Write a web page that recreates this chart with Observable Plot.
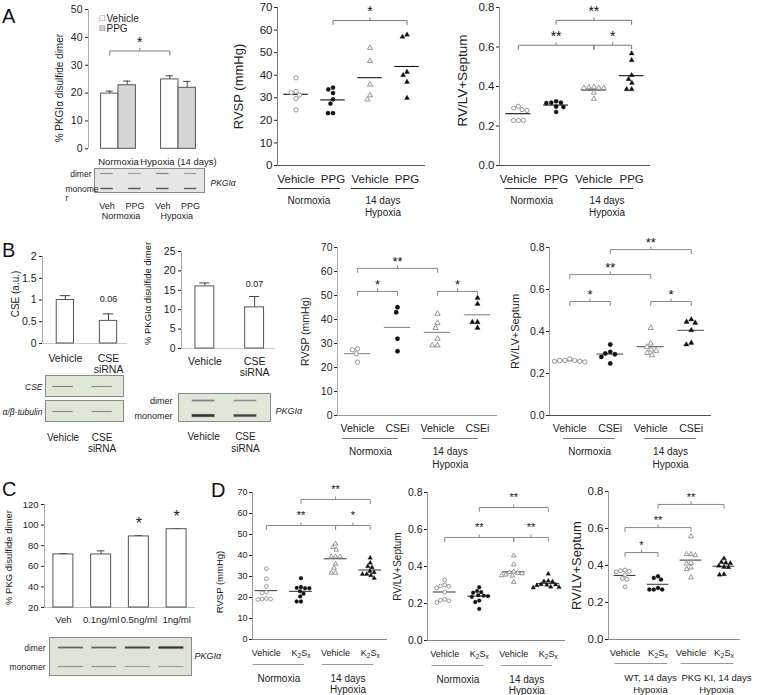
<!DOCTYPE html>
<html>
<head>
<meta charset="utf-8">
<script src="https://cdn.jsdelivr.net/npm/d3@7"></script>
<script src="https://cdn.jsdelivr.net/npm/@observablehq/plot@0.6"></script>
<style>
  html, body { margin: 0; padding: 0; background: #fff; }
  #fig { position: relative; width: 757px; height: 695px; overflow: hidden; background: #fff;
         font-family: "Liberation Sans", Arial, Helvetica, sans-serif; color: #222; }
  #fig svg { position: absolute; overflow: visible; }
  .letter { position: absolute; font-size: 20px; line-height: 20px; color: #111; }
</style>
</head>
<body>
<div id="fig"></div>
<script>
// ======================= DATA =======================
// Panel A (left bar chart): % PKGIα disulfide dimer, mean ± SEM
const a1Groups = ["Normoxia", "Hypoxia (14 days)"];
const a1Series = ["Vehicle", "PPG"];
const a1VehicleMean = [19.8, 24.9];
const a1VehicleErr = [0.9, 1.3];
const a1PpgMean = [22.8, 21.9];
const a1PpgErr = [1.5, 2.3];
const a1Brackets = [{g1: 0, g2: 1, y: 35.1, label: "*"}];

// Panel A blot
const aBlotLanes = ["Veh", "PPG", "Veh", "PPG"];
const aBlotGroups = ["Normoxia", "Hypoxia"];
const aBlotRows = ["dimer", "monomer"];
const aBlotRowLabels = ["dimer", "monome\nr"];
const aBlotDimer = [0.35, 0.3, 0.45, 0.3];
const aBlotMonomer = [0.7, 0.7, 0.7, 0.65];

// Panel A scatter plots
const labelsPPG = ["Vehicle", "PPG", "Vehicle", "PPG"];
const groupsNH = ["Normoxia", "14 days\nHypoxia"];
const a2VehNorm = [38.8, 32.8, 32.3, 31.2, 29.6, 24.6];
const a2PpgNorm = [34.5, 33.7, 32.1, 29.3, 27.4, 23.2, 23.2];
const a2VehHyp = [52.1, 46.3, 35.8, 31.1, 29.2];
const a2PpgHyp = [57.9, 57.0, 41.4, 40.0, 37.0, 29.9];
const a2Brackets = [{from: 1, to: 3, y: 64.2, label: "*"}];

const a3VehNorm = [0.300, 0.291, 0.283, 0.279, 0.228, 0.228, 0.228];
const a3PpgNorm = [0.325, 0.318, 0.318, 0.316, 0.298, 0.296, 0.271];
const a3VehHyp = [0.398, 0.396, 0.393, 0.392, 0.392, 0.369, 0.338];
const a3PpgHyp = [0.567, 0.533, 0.457, 0.437, 0.418, 0.386, 0.386];
const a3Brackets = [
  {from: 1, to: 3, y: 0.735, label: "**"},
  {from: 0, to: 2, y: 0.609, label: "**"},
  {from: 2, to: 3, y: 0.609, label: "*"}
];

// Panel B bar charts
const bCats = ["Vehicle", "CSE\nsiRNA"];
const b1Mean = [1.0, 0.52];
const b1Err = [0.1, 0.16];
const b1Note = ["", "0.06"];
const b2Mean = [16.0, 10.6];
const b2Err = [0.9, 2.8];
const b2Note = ["", "0.07"];

// Panel B blots
const b1CseBand = [0.4, 0.35];
const b1TubulinBand = [0.4, 0.4];
const b2Dimer = [0.4, 0.3];
const b2Monomer = [1.0, 0.85];

// Panel B scatter plots
const labelsCSEi = ["Vehicle", "CSEi", "Vehicle", "CSEi"];
const b3VehNorm = [27.8, 27.4, 25.7, 22.2];
const b3CseiNorm = [45.1, 43.0, 32.0, 26.8];
const b3VehHyp = [42.4, 38.5, 36.5, 32.0, 29.2, 29.2];
const b3CseiHyp = [49.0, 46.5, 38.9, 38.9, 36.5];
const b3Brackets = [
  {from: 0, to: 2, y: 61.3, label: "**"},
  {from: 0, to: 1, y: 51.7, label: "*"},
  {from: 2, to: 3, y: 51.7, label: "*"}
];
const b4VehNorm = [0.270, 0.262, 0.262, 0.262, 0.258, 0.258, 0.255];
const b4CseiNorm = [0.338, 0.303, 0.295, 0.292, 0.279, 0.248];
const b4VehHyp = [0.417, 0.343, 0.327, 0.314, 0.308, 0.298, 0.287];
const b4CseiHyp = [0.457, 0.446, 0.441, 0.406, 0.346, 0.338];
const b4Brackets = [
  {from: 1, to: 3, y: 0.79, label: "**"},
  {from: 0, to: 2, y: 0.671, label: "**"},
  {from: 0, to: 1, y: 0.543, label: "*"},
  {from: 2, to: 3, y: 0.543, label: "*"}
];

// Panel C
const cCats = ["Veh", "0.1ng/ml", "0.5ng/ml", "1ng/ml"];
const cMean = [71.5, 71.5, 89.0, 96.0];
const cErr = [0.8, 3.5, 0.8, 0.6];
const cStar = ["", "", "*", "*"];
const cDimer = [0.6, 0.6, 0.85, 1.0];
const cMonomer = [0.25, 0.25, 0.2, 0.2];

// Panel D
const labelsK2Sx = ["Vehicle", "K2Sx", "Vehicle", "K2Sx"];
const d1VehNorm = [33.7, 28.9, 25.3, 22.5, 22.2, 19.5, 19.3, 19.2, 19.0];
const d1K2sxNorm = [29.2, 25.0, 24.6, 24.4, 24.4, 23.0, 21.8, 20.5, 18.1, 18.1];
const d1VehHyp = [45.6, 44.0, 42.7, 39.5, 39.5, 39.5, 36.0, 34.1, 31.8, 31.8];
const d1K2sxHyp = [38.9, 36.5, 34.8, 34.3, 32.5, 32.0, 31.1, 31.1, 30.5, 29.2];
const d1Brackets = [
  {from: 1, to: 3, y: 66.7, label: "**"},
  {from: 0, to: 2, y: 54.3, label: "**"},
  {from: 2, to: 3, y: 54.3, label: "*"}
];
const d2VehNorm = [0.328, 0.300, 0.295, 0.293, 0.285, 0.262, 0.222, 0.218, 0.215, 0.205];
const d2K2sxNorm = [0.288, 0.268, 0.262, 0.258, 0.245, 0.243, 0.240, 0.236, 0.216, 0.208, 0.171];
const d2VehHyp = [0.459, 0.411, 0.372, 0.368, 0.365, 0.362, 0.356, 0.352, 0.350, 0.315];
const d2K2sxHyp = [0.360, 0.322, 0.320, 0.318, 0.303, 0.302, 0.300, 0.298, 0.290, 0.288, 0.285];
const d2Brackets = [
  {from: 1, to: 3, y: 0.719, label: "**"},
  {from: 0, to: 2, y: 0.557, label: "**"},
  {from: 2, to: 3, y: 0.557, label: "**"}
];
const groupsWTKI = ["WT, 14 days\nHypoxia", "PKG KI, 14 days\nHypoxia"];
const d3VehWT = [0.375, 0.372, 0.368, 0.365, 0.350, 0.330, 0.325, 0.285];
const d3K2sxWT = [0.342, 0.333, 0.324, 0.279, 0.270, 0.270, 0.270];
const d3VehKI = [0.557, 0.461, 0.461, 0.455, 0.414, 0.410, 0.389, 0.380, 0.335];
const d3K2sxKI = [0.438, 0.418, 0.414, 0.412, 0.398, 0.392, 0.390, 0.352, 0.350];
const d3Brackets = [
  {from: 1, to: 3, y: 0.73, label: "**"},
  {from: 0, to: 2, y: 0.605, label: "**"},
  {from: 0, to: 1, y: 0.47, label: "*"}
];

// ======================= HELPERS =======================
const FONT = '"Liberation Sans", Arial, Helvetica, sans-serif';
const fig = document.getElementById("fig");

function styleFor(fs) {
  return {fontFamily: FONT, fontSize: fs + "px", color: "#222", background: "transparent", overflow: "visible"};
}
function dims(f, m) {
  return {width: f.R - f.L + m.left + m.right, height: f.B - f.T + m.top + m.bottom,
    marginLeft: m.left, marginRight: m.right, marginTop: m.top, marginBottom: m.bottom};
}
function subscripts(svg) {
  d3.select(svg).selectAll("text, tspan").each(function () {
    if (this.childElementCount === 0 && this.textContent === "K2Sx") {
      const fs = parseFloat(getComputedStyle(this).fontSize) || 9;
      const s = d3.select(this); s.text("");
      const sh = (0.28 * fs).toFixed(2);
      s.append("tspan").text("K");
      s.append("tspan").attr("font-size", (0.72 * fs).toFixed(2)).attr("dy", sh).text("2");
      s.append("tspan").attr("dy", -sh).text("S");
      s.append("tspan").attr("font-size", (0.72 * fs).toFixed(2)).attr("dy", sh).text("x");
    }
  });
}
function mount(svg, f, m) {
  svg.style.position = "absolute";
  svg.style.left = (f.L - m.left) + "px";
  svg.style.top = (f.T - m.top) + "px";
  svg.style.overflow = "visible";
  svg.style.background = "transparent";
  fig.appendChild(svg);
  subscripts(svg);
}
function letter(t, x, y) {
  const d = document.createElement("div");
  d.className = "letter"; d.textContent = t;
  d.style.left = x + "px"; d.style.top = y + "px";
  fig.appendChild(d);
}
// beeswarm offsets (px) for the values of one category
function swarm(values, yPx, d) {
  const order = d3.range(values.length).sort((a, b) => values[b] - values[a]);
  const placed = [], out = new Array(values.length);
  for (const i of order) {
    const y = yPx(values[i]);
    const near = placed.filter(p => Math.abs(p.y - y) < d);
    const cands = [0];
    for (const p of near) {
      const dx = Math.sqrt(d * d - (p.y - y) ** 2);
      cands.push(p.x + dx, p.x - dx);
    }
    cands.sort((a, b) => Math.abs(a) - Math.abs(b) || a - b);
    let x = 0;
    for (const c of cands) {
      if (near.every(p => (p.x - c) ** 2 + (p.y - y) ** 2 >= d * d - 1e-6)) { x = c; break; }
    }
    placed.push({x, y}); out[i] = x;
  }
  return out;
}
function bracketMarks(br, pxY, c) {
  const dEnd = (c.endLen ?? 4) / pxY, dTick = (c.tickLen ?? 2.5) / pxY;
  const pts = br.flatMap((b, i) => [
    {i, x: b.from, y: b.y - dEnd}, {i, x: b.from, y: b.y},
    {i, x: b.to, y: b.y}, {i, x: b.to, y: b.y - dEnd}]);
  return [
    Plot.line(pts, {x: "x", y: "y", z: "i", stroke: c.bracketColor, strokeWidth: 1}),
    Plot.ruleX(br, {x: b => (b.from + b.to) / 2, y1: "y", y2: b => b.y + dTick, stroke: c.bracketColor}),
    Plot.text(br, {x: b => (b.from + b.to) / 2, y: "y", text: "label", textAnchor: "middle",
      dy: -(c.starOff - 0.26 * c.starFs), fontSize: c.starFs, fill: "#111"})
  ];
}
function yLabelMark(c) {
  return Plot.text([c.yLabel], {frameAnchor: "left", text: d => d, rotate: -90, textAnchor: "middle",
    lineAnchor: "middle", dx: c.yLabDx, dy: c.yLabDy || 0, fontSize: c.yLabFs, fill: "#222"});
}

// ---------- scatter (dot) plot ----------
function scatterPlot(c) {
  const f = c.frame;
  const m = {top: 40, right: 20, bottom: 60, left: 60};
  const [x0, x1] = c.xDomain, [y0, y1] = c.yDomain;
  const pxX = (f.R - f.L) / (x1 - x0);
  const pxY = (f.B - f.T) / (y1 - y0);
  const yPx = v => f.B - (v - y0) * pxY;
  const marks = [
    Plot.ruleX([x0], {stroke: c.yAxisColor}),
    Plot.ruleY([y0], {stroke: c.xAxisColor})
  ];
  const means = c.series.map((s, g) => ({g, m: d3.mean(s.values)}));
  marks.push(Plot.ruleY(means, {y: "m", x1: d => d.g - c.meanHalf, x2: d => d.g + c.meanHalf,
    stroke: c.meanColor, strokeWidth: 1.1}));
  c.series.forEach((s, g) => {
    const off = swarm(s.values, yPx, c.gap);
    const pts = s.values.map((v, i) => ({x: g + off[i] / pxX, y: v}));
    const tri = s.symbol === "triangle";
    marks.push(Plot.dot(pts, {x: "x", y: "y", symbol: s.symbol, r: tri ? c.r * 0.9 : c.r,
      fill: s.open ? "white" : "#111", stroke: s.open ? "#8c8c8c" : "#111",
      strokeWidth: s.open ? 0.9 : 0.3}));
  });
  marks.push(Plot.text(c.xLabels, {x: (d, i) => i, y: y0, text: d => d, lineAnchor: "top", textAnchor: "middle",
    dy: c.xLabY - 0.36 * c.xFs, fontSize: c.xFs, fill: "#222"}));
  const [ulL, ulR] = c.ul;
  const grp = c.groups.map((label, k) => ({label, a: 2 * k - ulL, b: 2 * k + 1 + ulR}));
  marks.push(Plot.ruleY(grp, {y: y0, x1: "a", x2: "b", dy: c.ulY, stroke: c.ulColor}));
  marks.push(Plot.text(grp, {x: d => (d.a + d.b) / 2, y: y0, text: "label", lineAnchor: "top", textAnchor: "middle",
    lineHeight: c.gLH, dx: c.gDx || 0, dy: c.gY - 0.36 * c.gFs, fontSize: c.gFs, fill: "#222"}));
  marks.push(...bracketMarks(c.brackets, pxY, c));
  marks.push(yLabelMark(c));
  const svg = Plot.plot({
    ...dims(f, m), style: styleFor(c.tickFs),
    x: {domain: c.xDomain, axis: null},
    y: {domain: c.yDomain, ticks: c.yTicks, tickFormat: c.yFmt, tickSize: 3, tickPadding: 2, label: null},
    marks
  });
  mount(svg, f, m);
}

// ---------- bar chart ----------
function barPlot(c) {
  const f = c.frame;
  const m = {top: 30, right: 30, bottom: 40, left: 60};
  const [x0] = c.xDomain, [y0, y1] = c.yDomain;
  const pxY = (f.B - f.T) / (y1 - y0);
  const marks = [Plot.ruleY([y0], {stroke: c.baseColor}), Plot.ruleX([x0], {stroke: c.yAxisColor})];
  for (const set of c.barSets) {
    marks.push(Plot.ruleX(set.bars, {x: "x", y1: "v", y2: d => d.v + d.e, stroke: "#444"}));
    marks.push(Plot.ruleY(set.bars, {y: d => d.v + d.e, x1: d => d.x - c.cap, x2: d => d.x + c.cap, stroke: "#444"}));
    marks.push(Plot.rect(set.bars, {x1: d => d.x - c.bw, x2: d => d.x + c.bw, y1: y0, y2: "v",
      fill: set.fill, stroke: "#555", strokeWidth: 1}));
  }
  marks.push(Plot.text(c.xLabels, {x: "x", y: y0, text: "text", lineAnchor: "top", textAnchor: "middle",
    lineHeight: c.xLH || 1.1, dy: c.xLabY - 0.36 * c.xFs, fontSize: c.xFs, fill: "#222"}));
  if (c.notes) marks.push(Plot.text(c.notes, {x: "x", y: "y", text: "text", textAnchor: "middle", dy: c.noteDy,
    fontSize: c.noteFs, fill: "#222"}));
  if (c.brackets) marks.push(...bracketMarks(c.brackets, pxY, c));
  marks.push(yLabelMark(c));
  if (c.extra) marks.push(...c.extra);
  const svg = Plot.plot({
    ...dims(f, m), style: styleFor(c.tickFs),
    x: {domain: c.xDomain, axis: null},
    y: {domain: c.yDomain, ticks: c.yTicks, tickFormat: c.yFmt || (d => d), tickSize: 3, tickPadding: 3, label: null},
    marks
  });
  mount(svg, f, m);
}

// ---------- western blot strip ----------
function blotPlot(c) {
  const f = c.frame;
  const m = {top: 4, right: 50, bottom: 40, left: 70};
  const data = c.rows.flatMap((row, r) => c.bands[r].map((v, lane) => ({row, lane, v})));
  const marks = [
    Plot.frame({fill: c.bg, stroke: "#8a8a8a"}),
    Plot.ruleY(data, {y: "row", x1: d => d.lane - c.hw * 1.04, x2: d => d.lane + c.hw * 1.04,
      stroke: "#444", strokeOpacity: d => 0.15 * d.v, strokeWidth: d => c.thick * (0.6 + d.v) + 1.2}),
    Plot.ruleY(data, {y: "row", x1: d => d.lane - c.hw, x2: d => d.lane + c.hw,
      stroke: "#222", strokeOpacity: d => 0.2 + 0.7 * d.v, strokeWidth: d => c.thick * (0.6 + d.v)})
  ];
  if (c.rowLabels) c.rows.forEach((row, i) => {
    const align = (c.rowAligns && c.rowAligns[i]) || "end";
    marks.push(Plot.text([row], {y: d => d, text: () => c.rowLabels[i],
      frameAnchor: "left", textAnchor: align, lineAnchor: "top", lineHeight: 1.05,
      dx: (c.rowDxs && c.rowDxs[i] != null) ? c.rowDxs[i] : c.rowDx, dy: -0.36 * c.rowFs, fontSize: c.rowFs,
      fontStyle: c.rowItalic ? "italic" : "normal", fill: "#222"}));
  });
  if (c.rightLabel) marks.push(Plot.text([c.rightLabel], {frameAnchor: "right", textAnchor: "start",
    text: d => d, dx: c.rightDx, dy: c.rightDy || 0, fontSize: c.rightFs, fontStyle: "italic", fill: "#222"}));
  if (c.laneLabels) marks.push(Plot.text(c.laneLabels, {x: (d, i) => i, frameAnchor: "bottom", text: d => d,
    textAnchor: "middle", lineAnchor: "top", lineHeight: c.laneLH || 1.1, dy: c.laneY - 0.36 * c.laneFs,
    fontSize: c.laneFs, fill: "#222"}));
  if (c.groupLabels) marks.push(Plot.text(c.groupLabels, {x: (d, i) => 2 * i + 0.5, frameAnchor: "bottom", text: d => d,
    textAnchor: "middle", lineAnchor: "top", dy: c.groupY - 0.36 * c.laneFs, fontSize: c.laneFs, fill: "#222"}));
  const svg = Plot.plot({
    ...dims(f, m), style: styleFor(9),
    x: {domain: c.xDomain, axis: null},
    y: {type: "point", domain: c.rows, padding: c.pad, axis: null},
    marks
  });
  mount(svg, f, m);
}

// ======================= PANEL A =======================
letter("A", 2, 6);
{
  const hw = 0.145;
  const veh = a1VehicleMean.map((v, g) => ({x: g - hw, v, e: a1VehicleErr[g]}));
  const ppg = a1PpgMean.map((v, g) => ({x: g + hw, v, e: a1PpgErr[g]}));
  barPlot({
    frame: {L: 88, R: 211, T: 9, B: 148.3},
    xDomain: [-0.5, 1.55], yDomain: [0, 50], yTicks: d3.range(0, 51, 10),
    tickFs: 10.5, bw: hw, cap: 0.06,
    barSets: [{bars: veh, fill: "white"}, {bars: ppg, fill: "#d6d6d6"}],
    baseColor: "none", yAxisColor: "#aaa",
    xLabels: a1Groups.map((t, g) => ({x: g, text: t})), xLabY: 12, xFs: 9.5,
    brackets: a1Brackets.map(b => ({from: b.g1 - hw, to: b.g2 - hw, y: b.y, label: b.label})),
    bracketColor: "#777", starFs: 14, starOff: 12.4,
    yLabel: "% PKGIα disulfide dimer", yLabDx: -29, yLabDy: 9, yLabFs: 10,
    extra: [
      Plot.text(["■"], {frameAnchor: "top-left", text: d => d, textAnchor: "start", dx: 11, dy: 5, fontSize: 9, fill: "#fff"}),
      Plot.text(["□"], {frameAnchor: "top-left", text: d => d, textAnchor: "start", dx: 11, dy: 5, fontSize: 9, fill: "#333"}),
      Plot.text([a1Series[0]], {frameAnchor: "top-left", text: d => d, textAnchor: "start", dx: 18, dy: 5, fontSize: 10, fill: "#222"}),
      Plot.text(["■"], {frameAnchor: "top-left", text: d => d, textAnchor: "start", dx: 11, dy: 15, fontSize: 9, fill: "#cfcfcf"}),
      Plot.text(["□"], {frameAnchor: "top-left", text: d => d, textAnchor: "start", dx: 11, dy: 15, fontSize: 9, fill: "#333"}),
      Plot.text([a1Series[1]], {frameAnchor: "top-left", text: d => d, textAnchor: "start", dx: 18, dy: 15, fontSize: 10, fill: "#222"})
    ]
  });
}
blotPlot({
  frame: {L: 94, R: 204, T: 168, B: 192}, xDomain: [-0.45, 3.5],
  rows: aBlotRows, rowLabels: aBlotRowLabels, rowAligns: ["end", "start"], rowDxs: [-3, -29], rowFs: 8.5, pad: 0.3,
  bands: [aBlotDimer, aBlotMonomer], hw: 0.22, thick: 1.0, bg: "#e6e6e6",
  rightLabel: "PKGIα", rightDx: 6, rightDy: 3, rightFs: 8.5,
  laneLabels: aBlotLanes, laneY: 13, laneFs: 9, groupLabels: aBlotGroups, groupY: 23
});

const abCommon = {
  xDomain: [-0.5, 3.5], tickFs: 11.5, xFs: 11.5, gFs: 10, yLabFs: 13,
  xLabY: 13, ulY: 23, gY: 34, gLH: 1.2, r: 2.1, gap: 5, meanHalf: 0.33,
  starFs: 14, starOff: 12.5, meanColor: "#111", bracketColor: "#777", ulColor: "#333"
};
scatterPlot({
  ...abCommon,
  frame: {L: 277, R: 425, T: 7, B: 165}, yDomain: [0, 70], yTicks: d3.range(0, 71, 10), yFmt: d => d,
  xLabels: labelsPPG, groups: groupsNH, ul: [0.5, 0.2],
  series: [
    {values: a2VehNorm, symbol: "circle", open: true},
    {values: a2PpgNorm, symbol: "circle", open: false},
    {values: a2VehHyp, symbol: "triangle", open: true},
    {values: a2PpgHyp, symbol: "triangle", open: false}],
  brackets: a2Brackets, yLabel: "RVSP (mmHg)", yLabDx: -39,
  yAxisColor: "#777", xAxisColor: "#555"
});
scatterPlot({
  ...abCommon,
  frame: {L: 499, R: 650, T: 7, B: 165}, yDomain: [0, 0.8], yTicks: [0, 0.2, 0.4, 0.6, 0.8], yFmt: d3.format(".1f"),
  xLabels: labelsPPG, groups: groupsNH, ul: [0.35, 0.05],
  series: [
    {values: a3VehNorm, symbol: "circle", open: true},
    {values: a3PpgNorm, symbol: "circle", open: false},
    {values: a3VehHyp, symbol: "triangle", open: true},
    {values: a3PpgHyp, symbol: "triangle", open: false}],
  brackets: a3Brackets, yLabel: "RV/LV+Septum", yLabDx: -37, yLabDy: -6, yLabFs: 13.5,
  yAxisColor: "#999", xAxisColor: "#555"
});

// ======================= PANEL B =======================
letter("B", 2, 240);
barPlot({
  frame: {L: 42, R: 127, T: 256, B: 343}, xDomain: [-0.53, 1.44], yDomain: [0, 2],
  yTicks: [0, 0.5, 1, 1.5, 2], tickFs: 10.5, bw: 0.2, cap: 0.12,
  barSets: [{bars: b1Mean.map((v, i) => ({x: i, v, e: b1Err[i]})), fill: "white"}],
  baseColor: "#ccc", yAxisColor: "#aaa",
  xLabels: bCats.map((t, i) => ({x: i, text: t})), xLabY: 14, xFs: 10.5, xLH: 1.05,
  notes: b1Mean.map((v, i) => ({x: i, y: v + b1Err[i], text: b1Note[i]})), noteDy: -15, noteFs: 9,
  yLabel: "CSE (a.u.)", yLabDx: -27, yLabDy: -6, yLabFs: 10
});
blotPlot({
  frame: {L: 45, R: 123, T: 375, B: 396}, xDomain: [-0.45, 1.55],
  rows: ["CSE"], rowLabels: ["CSE"], rowDx: -3, rowFs: 8.5, rowItalic: true, pad: 0.5,
  bands: [b1CseBand], hw: 0.26, thick: 1.0, bg: "#dfe7d7"
});
blotPlot({
  frame: {L: 45, R: 123, T: 400, B: 421}, xDomain: [-0.45, 1.55],
  rows: ["tubulin"], rowLabels: ["α/β-tubulin"], rowDx: -3, rowFs: 8.5, rowItalic: true, pad: 0.5,
  bands: [b1TubulinBand], hw: 0.26, thick: 0.9, bg: "#dfe7d7",
  laneLabels: bCats, laneY: 15, laneFs: 10, laneLH: 1.1
});
barPlot({
  frame: {L: 181, R: 275, T: 251, B: 348}, xDomain: [-0.47, 1.42], yDomain: [0, 25],
  yTicks: d3.range(0, 26, 5), tickFs: 10.5, bw: 0.19, cap: 0.1,
  barSets: [{bars: b2Mean.map((v, i) => ({x: i, v, e: b2Err[i]})), fill: "white"}],
  baseColor: "#ccc", yAxisColor: "#aaa",
  xLabels: bCats.map((t, i) => ({x: i, text: t})), xLabY: 12, xFs: 10.5, xLH: 1.1,
  notes: b2Mean.map((v, i) => ({x: i, y: v + b2Err[i], text: b2Note[i]})), noteDy: -12, noteFs: 9,
  yLabel: "% PKGIα disulfide dimer", yLabDx: -34, yLabDy: -6.5, yLabFs: 9.5
});
blotPlot({
  frame: {L: 178, R: 270, T: 393, B: 421}, xDomain: [-0.6, 1.6],
  rows: ["dimer", "monomer"], rowLabels: ["dimer", "monomer"], rowDx: -6, rowFs: 9, pad: 0.4,
  bands: [b2Dimer, b2Monomer], hw: 0.27, thick: 1.6, bg: "#dfe7d7",
  rightLabel: "PKGIα", rightDx: 5, rightDy: 4, rightFs: 9,
  laneLabels: bCats, laneY: 14, laneFs: 10, laneLH: 1.15
});

const bCommon = {
  xDomain: [-0.5, 3.5], tickFs: 10.5, xFs: 10.5, gFs: 10, yLabFs: 10.5,
  xLabY: 13, ulY: 23, gY: 34, gLH: 1.3, r: 2.2, gap: 5.2, meanHalf: 0.33,
  starFs: 13, starOff: 10, bracketColor: "#888", ulColor: "#777"
};
scatterPlot({
  ...bCommon,
  frame: {L: 337, R: 497, T: 247, B: 415}, yDomain: [0, 70], yTicks: d3.range(0, 71, 10), yFmt: d => d,
  xLabels: labelsCSEi, groups: groupsNH, ul: [0.38, 0.02],
  series: [
    {values: b3VehNorm, symbol: "circle", open: true},
    {values: b3CseiNorm, symbol: "circle", open: false},
    {values: b3VehHyp, symbol: "triangle", open: true},
    {values: b3CseiHyp, symbol: "triangle", open: false}],
  brackets: b3Brackets, yLabel: "RVSP (mmHg)", yLabDx: -32,
  yAxisColor: "#aaa", xAxisColor: "#999", meanColor: "#888"
});
scatterPlot({
  ...bCommon,
  frame: {L: 549, R: 711, T: 247, B: 415}, yDomain: [0, 0.8], yTicks: [0, 0.2, 0.4, 0.6, 0.8], yFmt: d3.format(".1f"),
  xLabels: labelsCSEi, groups: groupsNH, ul: [0.15, 0.13],
  series: [
    {values: b4VehNorm, symbol: "circle", open: true},
    {values: b4CseiNorm, symbol: "circle", open: false},
    {values: b4VehHyp, symbol: "triangle", open: true},
    {values: b4CseiHyp, symbol: "triangle", open: false}],
  brackets: b4Brackets, yLabel: "RV/LV+Septum", yLabDx: -34, yLabFs: 11,
  yAxisColor: "#999", xAxisColor: "#555", meanColor: "#555"
});

// ======================= PANEL C =======================
letter("C", 2, 479);
barPlot({
  frame: {L: 44, R: 195, T: 504, B: 607}, xDomain: [-0.5, 3.5], yDomain: [20, 120],
  yTicks: d3.range(20, 121, 20), tickFs: 9.5, bw: 0.265, cap: 0.1,
  barSets: [{bars: cMean.map((v, i) => ({x: i, v, e: cErr[i]})), fill: "white"}],
  baseColor: "#bbb", yAxisColor: "#aaa",
  xLabels: cCats.map((t, i) => ({x: i, text: t})), xLabY: 11, xFs: 9.5,
  notes: cMean.map((v, i) => ({x: i, y: v + cErr[i], text: cStar[i]})), noteDy: -12, noteFs: 16,
  yLabel: "% PKG disulfide dimer", yLabDx: -36, yLabDy: 1.5, yLabFs: 9.5
});
blotPlot({
  frame: {L: 49, R: 191, T: 637, B: 675}, xDomain: [-0.64, 3.6],
  rows: ["dimer", "monomer"], rowLabels: ["dimer", "monomer"], rowDx: -4, rowFs: 8.5, pad: 0.5,
  bands: [cDimer, cMonomer], hw: 0.37, thick: 1.3, bg: "#dfe4d6",
  rightLabel: "PKGIα", rightDx: 3, rightDy: 0, rightFs: 9
});

// ======================= PANEL D =======================
letter("D", 211, 480);
const dCommon = {
  xDomain: [-0.5, 3.5], xFs: 9, gFs: 10, yLabFs: 10,
  xLabY: 13, ulY: 25, gY: 38, gLH: 1.1, r: 1.9, gap: 4.3, meanHalf: 0.33,
  starFs: 11, starOff: 13, meanColor: "#444", bracketColor: "#888", ulColor: "#999",
  yAxisColor: "#999", xAxisColor: "#888"
};
scatterPlot({
  ...dCommon,
  frame: {L: 252, R: 387, T: 492, B: 639}, xDomain: [-0.4, 3.5], yDomain: [0, 70],
  yTicks: d3.range(0, 71, 10), yFmt: d => d, tickFs: 9,
  xLabels: labelsK2Sx, groups: groupsNH, ul: [0.38, 0.1],
  series: [
    {values: d1VehNorm, symbol: "circle", open: true},
    {values: d1K2sxNorm, symbol: "circle", open: false},
    {values: d1VehHyp, symbol: "triangle", open: true},
    {values: d1K2sxHyp, symbol: "triangle", open: false}],
  brackets: d1Brackets, yLabel: "RVSP (mmHg)", yLabDx: -33, yLabDy: 16, yLabFs: 9.5
});
scatterPlot({
  ...dCommon,
  frame: {L: 427, R: 565, T: 492, B: 640}, yDomain: [0, 0.8],
  yTicks: [0, 0.2, 0.4, 0.6, 0.8], yFmt: d3.format(".1f"), tickFs: 10.5,
  xLabels: labelsK2Sx, groups: groupsNH, ul: [0.37, 0.13],
  series: [
    {values: d2VehNorm, symbol: "circle", open: true},
    {values: d2K2sxNorm, symbol: "circle", open: false},
    {values: d2VehHyp, symbol: "triangle", open: true},
    {values: d2K2sxHyp, symbol: "triangle", open: false}],
  brackets: d2Brackets, yLabel: "RV/LV+Septum", yLabDx: -30
});
scatterPlot({
  ...dCommon,
  frame: {L: 608, R: 740, T: 491, B: 639}, yDomain: [0, 0.8],
  yTicks: [0, 0.2, 0.4, 0.6, 0.8], yFmt: d3.format(".1f"), tickFs: 11.5,
  xFs: 9.5, gFs: 9.5, yLabFs: 13, ulY: 24, gY: 36, gLH: 1.26, gDx: 9, gap: 4.5, r: 2,
  starOff: 10,
  xLabels: labelsK2Sx, groups: groupsWTKI, ul: [0.3, 0.3],
  series: [
    {values: d3VehWT, symbol: "circle", open: true},
    {values: d3K2sxWT, symbol: "circle", open: false},
    {values: d3VehKI, symbol: "triangle", open: true},
    {values: d3K2sxKI, symbol: "triangle", open: false}],
  brackets: d3Brackets, yLabel: "RV/LV+Septum", yLabDx: -32
});
</script>
</body>
</html>
